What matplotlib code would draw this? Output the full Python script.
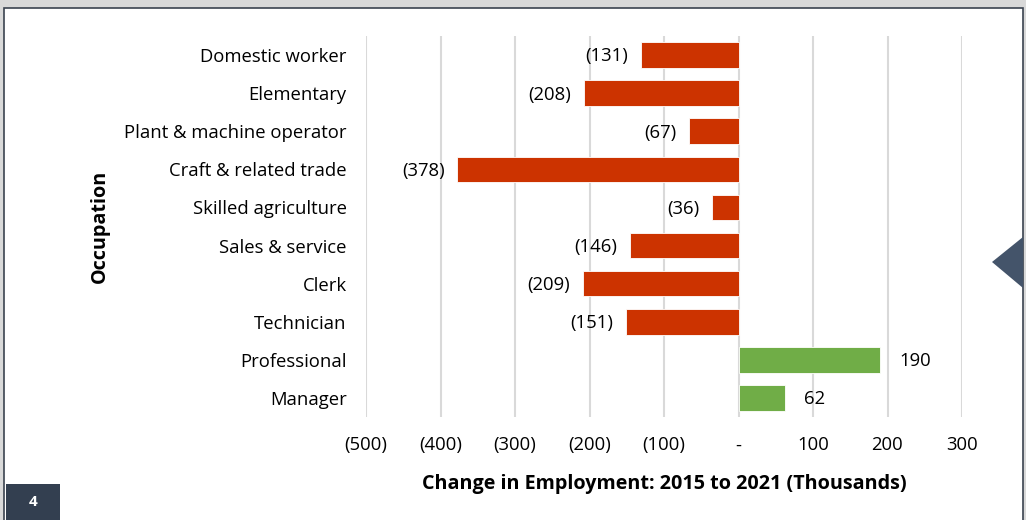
import matplotlib
matplotlib.use("Agg")
import matplotlib.pyplot as plt
from matplotlib.patches import Rectangle, Polygon
from matplotlib.ticker import FuncFormatter

occupations = ["Domestic worker", "Elementary", "Plant & machine operator",
               "Craft & related trade", "Skilled agriculture", "Sales & service",
               "Clerk", "Technician", "Professional", "Manager"]
change = [-131, -208, -67, -378, -36, -146, -209, -151, 190, 62]
x_ticks = [-500, -400, -300, -200, -100, 0, 100, 200, 300]

RED = "#CC3300"
GREEN = "#70AD47"
plt.rcParams["font.family"] = ["Open Sans", "DejaVu Sans"]
FS = 13.3


def accounting(v, pos=None):
    if v == 0:
        return "-"
    if v < 0:
        return f"({abs(v):,.0f})"
    return f"{v:,.0f}"


fig = plt.figure(figsize=(10.26, 5.2), dpi=100)
W, H = 1026, 520

# slide frame: grey surround, white panel with a dark outline
fig.patch.set_facecolor("#D9D9D9")
bg = fig.add_axes([0, 0, 1, 1])
bg.set_xlim(0, W)
bg.set_ylim(H, 0)
bg.axis("off")
bg.add_patch(Rectangle((4, 8), 1019, 520, facecolor="white",
                       edgecolor="#3B4350", lw=1.2))
bg.add_patch(Polygon([[992, 262], [1023, 237], [1023, 288]], closed=True,
                     facecolor="#44546A", edgecolor="none"))
bg.add_patch(Rectangle((6, 484), 54, 40, facecolor="#333F50", edgecolor="none"))
bg.text(33, 502, "4", color="white", fontsize=11, fontweight="bold",
        ha="center", va="center")

ax = fig.add_axes([366 / W, 1 - 417 / H, (962 - 366) / W, (417 - 36) / H])
ax.set_facecolor("none")
ypos = list(range(len(occupations)))
colors = [RED if v < 0 else GREEN for v in change]
ax.barh(ypos, change, height=0.67, color=colors, edgecolor="white",
        linewidth=0.6, zorder=3)

for y, v in zip(ypos, change):
    if v < 0:
        ax.annotate(accounting(v), (v, y), xytext=(-9, -1),
                    textcoords="offset points", ha="right", va="center",
                    fontsize=FS, color="black")
    else:
        ax.annotate(accounting(v), (v, y), xytext=(14, -1),
                    textcoords="offset points", ha="left", va="center",
                    fontsize=FS, color="black")

ax.set_xlim(-500, 300)
ax.set_ylim(len(occupations) - 0.5, -0.5)
ax.set_xticks(x_ticks)
ax.xaxis.set_major_formatter(FuncFormatter(accounting))
ax.set_yticks(ypos)
ax.set_yticklabels(occupations)
ax.grid(axis="x", color="#D9D9D9", lw=1.5, zorder=0)
for s in ax.spines.values():
    s.set_visible(False)
ax.tick_params(axis="both", length=0, labelsize=FS, colors="black")
ax.tick_params(axis="y", pad=14)
ax.tick_params(axis="x", pad=14)

ax.set_xlabel("Change in Employment: 2015 to 2021 (Thousands)",
              fontsize=14.2, fontweight="bold", labelpad=14)
ax.set_ylabel("Occupation", fontsize=14.2, fontweight="bold", labelpad=10)

fig.savefig("out.png", dpi=100, facecolor=fig.get_facecolor())
